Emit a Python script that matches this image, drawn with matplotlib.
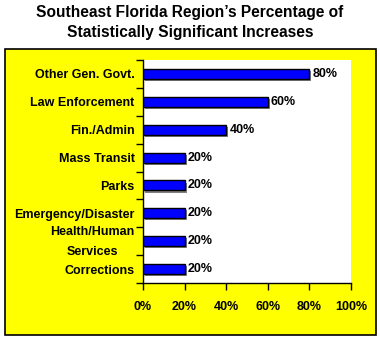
import matplotlib
matplotlib.use('Agg')
import matplotlib.pyplot as plt
import matplotlib.patheffects as pe
import matplotlib.transforms as mtransforms
from matplotlib.patches import Rectangle

categories = ['Other Gen. Govt.', 'Law Enforcement', 'Fin./Admin', 'Mass Transit',
              'Parks', 'Emergency/Disaster', 'Health/Human\nServices', 'Corrections']
values = [80, 60, 40, 20, 20, 20, 20, 20]
xticks = [0, 20, 40, 60, 80, 100]

plt.rcParams['font.family'] = ['Liberation Sans', 'DejaVu Sans']

fig = plt.figure(figsize=(3.8, 3.4), dpi=100)
fig.patch.set_facecolor('white')

# yellow frame behind the plot
box = Rectangle((5 / 380, 1 - 335 / 340), 371 / 380, (335 - 49) / 340,
                transform=fig.transFigure, facecolor='#ffff00', edgecolor='black',
                linewidth=1.2, zorder=-5)
fig.add_artist(box)

fig.text(0.5, 1 - 12 / 340, "Southeast Florida Region\u2019s Percentage of",
         ha='center', va='center', fontsize=11.2, fontweight='bold')
fig.text(0.5, 1 - 32 / 340, "Statistically Significant Increases",
         ha='center', va='center', fontsize=11.2, fontweight='bold')

ax = fig.add_axes([143 / 380, 1 - 283 / 340, (351 - 143) / 380, (283 - 60) / 340])
ax.set_zorder(2)
ax.set_facecolor('white')

y = list(range(len(categories)))
bars = ax.barh(y, values, height=0.36, color='#0000ff', edgecolor='black', linewidth=1.0,
               zorder=3)
for b in bars:
    b.set_path_effects([pe.SimplePatchShadow(offset=(1.5, -1.5), shadow_rgbFace='#808080',
                                             alpha=1.0), pe.Normal()])
for yi, v in zip(y, values):
    ax.text(v + 1.5, yi, f'{v}%', va='center', ha='left', fontsize=9, fontweight='bold',
            zorder=4)

ax.set_ylim(len(categories) - 0.5, -0.5)
ax.set_xlim(0, 100)
ax.set_yticks(y)
ax.set_yticklabels(categories, fontsize=9, fontweight='bold')
ax.set_yticks([i + 0.5 for i in range(-1, len(categories))], minor=True)
ax.tick_params(axis='y', which='major', length=0, pad=6)
ax.tick_params(axis='y', which='minor', length=5, width=1.0, direction='out', color='black')
ax.set_xticks(xticks)
ax.set_xticklabels([f'{t}%' for t in xticks], fontsize=9, fontweight='bold')
ax.tick_params(axis='x', length=5, width=1.0, direction='out', pad=8, color='black')
for s in ['top', 'right']:
    ax.spines[s].set_visible(False)
for s in ['left', 'bottom']:
    ax.spines[s].set_linewidth(1.0)

# two-line label: centred lines, wider spacing, nudged up a little
for lab in ax.get_yticklabels():
    if '\n' in lab.get_text():
        lab.set_multialignment('center')
        lab.set_linespacing(1.9)
        lab.set_transform(lab.get_transform() +
                          mtransforms.ScaledTranslation(0, 3.6 / 72, fig.dpi_scale_trans))

fig.savefig('out.png', dpi=100)
